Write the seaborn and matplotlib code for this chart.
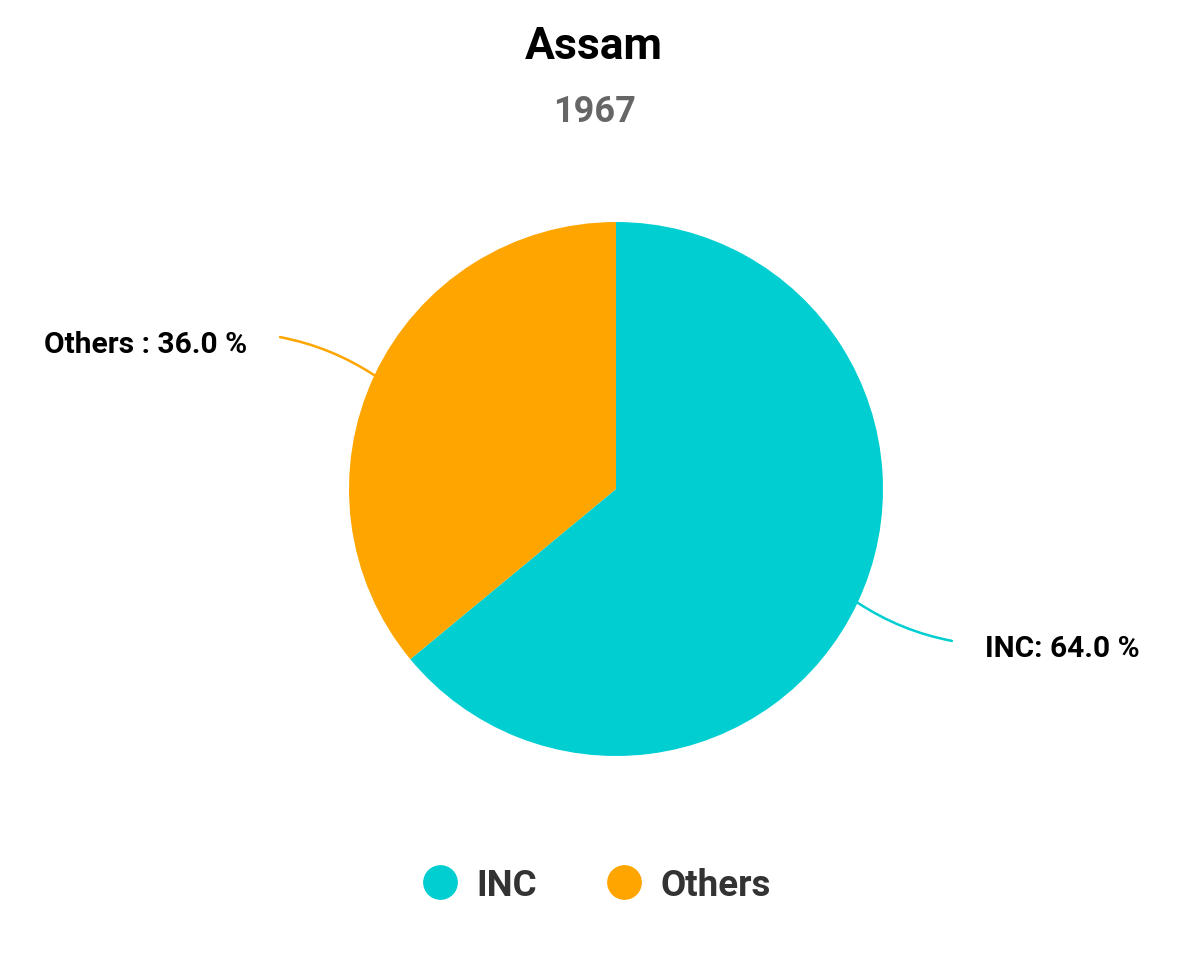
import numpy as np
import matplotlib.pyplot as plt
from matplotlib.lines import Line2D
import seaborn as sns

# data
parties = ['INC', 'Others']
shares = [64.0, 36.0]
label_seps = [': ', ' : ']
colors = ['#00CED1', '#FFA500']

sns.set_theme(style='white')
plt.rcParams['font.family'] = ['Roboto', 'DejaVu Sans']

fig = plt.figure(figsize=(11.88, 9.70), dpi=100)
ax = fig.add_axes([0, 0, 1, 1])

wedges, _ = ax.pie(shares, colors=colors, startangle=90, counterclock=False,
                   radius=1, wedgeprops=dict(linewidth=0))

# axes limits so that 1 data unit = 267 px, pie centred at (616, 490)
W, H, R = 1188, 970, 267.0
cx, cy = 616, 490
ax.set_xlim(-cx / R, (W - cx) / R)
ax.set_ylim(-(H - cy) / R, cy / R)
ax.set_aspect('auto')
ax.axis('off')

# leader lines + labels
for w, name, val, sep, col in zip(wedges, parties, shares, label_seps, colors):
    mid = np.deg2rad((w.theta1 + w.theta2) / 2)
    px, py = np.cos(mid), np.sin(mid)
    side = np.sign(px)
    ex, ey = 1.258 * side, 1.336 * py
    ax.annotate('', xy=(px, py), xytext=(ex, ey),
                arrowprops=dict(arrowstyle='-', color=col, lw=1.8,
                                connectionstyle='arc3,rad=-0.1',
                                shrinkA=0, shrinkB=0))
    tx = 1.382 * side
    ax.text(tx, ey - 0.025, f'{name}{sep}{val:.1f} %', fontsize=21.5,
            fontweight='bold', color='black', va='center',
            ha='left' if side > 0 else 'right')

fig.text(0.5, 1 - 47 / H, 'Assam', fontsize=32, fontweight='bold',
         color='black', ha='center', va='center')
fig.text(0.5, 1 - 112 / H, '1967', fontsize=26, fontweight='bold',
         color='#666666', ha='center', va='center')

handles = [Line2D([], [], marker='o', linestyle='none', markersize=24,
                  markerfacecolor=c, markeredgecolor=c) for c in colors]
leg = fig.legend(handles, parties, loc='center', ncol=2,
                 bbox_to_anchor=(596 / W, 1 - 886 / H), frameon=False,
                 prop=dict(size=26.5, weight='bold'), handletextpad=0.5,
                 columnspacing=1.85, handlelength=1.0)
for t in leg.get_texts():
    t.set_color('#333333')

fig.savefig('out.png', dpi=100, facecolor='white')
